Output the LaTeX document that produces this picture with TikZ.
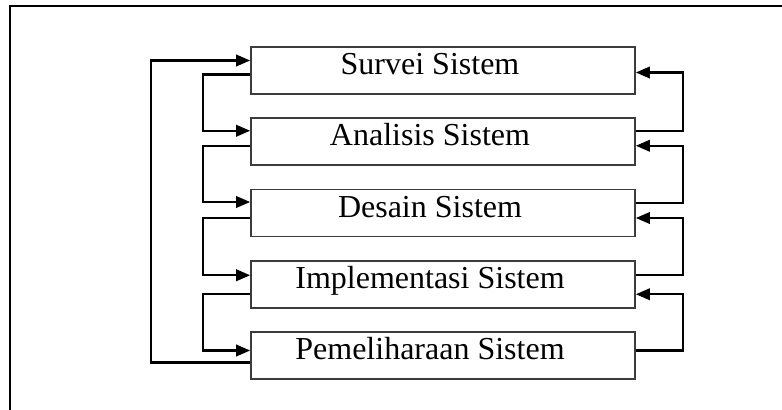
\documentclass[tikz,border=0pt]{standalone}
\usepackage{fontspec}
\setmainfont{Liberation Serif}
\usetikzlibrary{arrows.meta,calc}
\begin{document}
\begin{tikzpicture}[x=0.75pt,y=-0.75pt]
  % Colors
  \definecolor{boxcol}{RGB}{60,60,60}
  %
  \def\bw{288pt}
  \def\bh{35.25pt}
  %
  \tikzset{
    stepbox/.style={draw=boxcol, line width=1.2pt, minimum width=\bw, minimum height=\bh,
                    inner sep=0pt},
    steptext/.style={anchor=base, inner sep=0pt, font=\fontsize{24}{28}\selectfont},
    flow/.style={draw, line width=1.8pt, -{Triangle[length=10.5pt,width=8.5pt]}},
  }
  %
  \useasboundingbox (0,0) rectangle (782,410);
  %
  % Frame (open at right and bottom)
  \begin{scope}
    \clip (0,0) rectangle (782,410);
    \draw[line width=1.6pt] (10,6) rectangle (800,430);
  \end{scope}
  %
  %%% BOXES %%%
  \def\bx{443}
  \foreach \n/\name/\txt in {
    0/survei/{Survei Sistem},
    1/analisis/{Analisis Sistem},
    2/desain/{Desain Sistem},
    3/implementasi/{Implementasi Sistem},
    4/pemeliharaan/{Pemeliharaan Sistem}%
  } {
    \node[stepbox] (\name) at (\bx, {70.5+\n*71.25}) {};
    \node[steptext] (\name txt) at ($(\name.north)+(-13,28.5)$) {\txt};
  }
  %
  %%% LEFT SIDE %%%
  \draw[flow] ($(survei.west)+(0,4)$) -- ++(-47,0) |- ($(analisis.west)+(0,-11)$);
  \draw[flow] ($(analisis.west)+(0,4)$) -- ++(-47,0) |- ($(desain.west)+(0,-11)$);
  \draw[flow] ($(desain.west)+(0,5)$) -- ++(-47,0) |- ($(implementasi.west)+(0,-9)$);
  \draw[flow] ($(implementasi.west)+(0,10)$) -- ++(-47,0) |- ($(pemeliharaan.west)+(0,-5)$);
  % back to the start
  \draw[flow] ($(pemeliharaan.west)+(0,7)$) -- ++(-99,0) |- ($(survei.west)+(0,-10)$);
  %
  %%% RIGHT SIDE %%%
  \draw[flow] ($(analisis.east)+(0,-11)$) -- ++(47,0) |- ($(survei.east)+(0,2)$);
  \draw[flow] ($(desain.east)+(0,-10)$) -- ++(47,0) |- ($(analisis.east)+(0,4)$);
  \draw[flow] ($(implementasi.east)+(0,-9)$) -- ++(47,0) |- ($(desain.east)+(0,5)$);
  \draw[flow] ($(pemeliharaan.east)+(0,-5)$) -- ++(47,0) |- ($(implementasi.east)+(0,10)$);
\end{tikzpicture}
\end{document}
